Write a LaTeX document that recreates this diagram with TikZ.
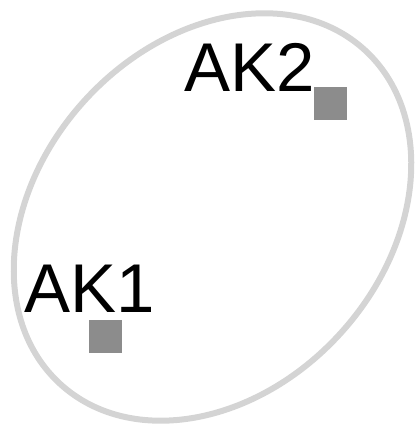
\documentclass[tikz,border=0pt]{standalone}
\usepackage{fontspec}
\setmainfont{Liberation Sans}
\definecolor{ringgray}{RGB}{212,212,212}
\definecolor{boxgray}{RGB}{140,140,140}
\begin{document}
\begin{tikzpicture}[x=1pt,y=1pt,
  ring/.style={draw=ringgray,line width=6pt},
  marker/.style={fill=boxgray,draw=none,minimum width=33pt,minimum height=33pt,inner sep=0pt},
  lbl/.style={font=\fontsize{69}{69}\selectfont,inner sep=0pt,anchor=base west}]
\useasboundingbox (0,0) rectangle (416,429);
\draw[ring,rotate around={47.7:(212.5,212)}] (212.5,212) ellipse [x radius=226, y radius=173];
\node[marker] (s2) at (330,325) {};
\node[marker] (s1) at (105,92) {};
\node[lbl] (ak2) at (184,337.3) {AK2};
\node[lbl] (ak1) at (24,116) {AK1};
\end{tikzpicture}
\end{document}
